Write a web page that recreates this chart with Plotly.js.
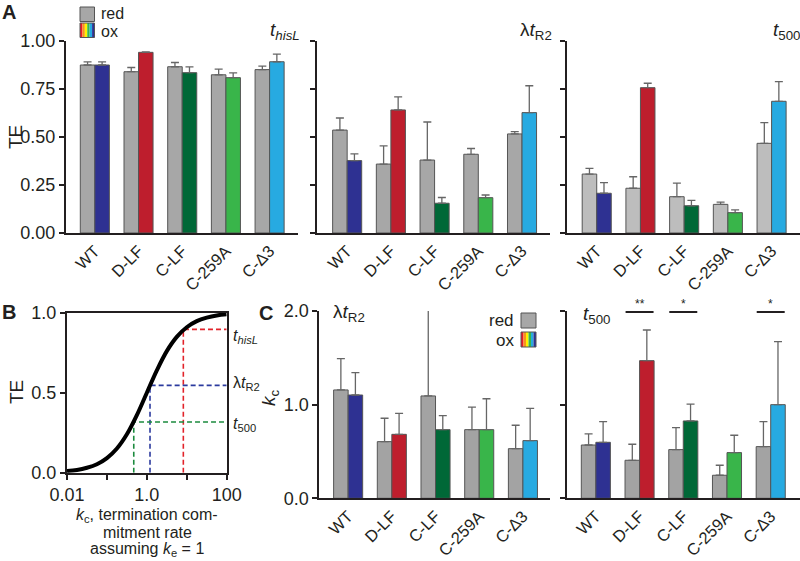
<!DOCTYPE html>
<html>
<head>
<meta charset="utf-8">
<script src="https://cdn.plot.ly/plotly-3.0.1.min.js"></script>
<style>html,body{margin:0;padding:0;background:#fff;}#chart{width:800px;height:561px;}</style>
</head>
<body>
<div id="chart"></div>
<script>
// ---------- DATA ----------
const categories = ['WT', 'D-LF', 'C-LF', 'C-259A', 'C-\u03943'];
const oxColors = ['#2e3192', '#be1e2d', '#006837', '#39b54a', '#27aae1'];

// Panel A: termination efficiency (TE)
const teHisLRed = [0.875, 0.840, 0.866, 0.824, 0.851];
const teHisLRedErr = [0.016, 0.022, 0.022, 0.030, 0.018];
const teHisLOx = [0.875, 0.941, 0.835, 0.809, 0.892];
const teHisLOxErr = [0.016, 0.002, 0.030, 0.025, 0.040];

const teR2Red = [0.536, 0.359, 0.380, 0.410, 0.516];
const teR2RedErr = [0.063, 0.095, 0.198, 0.030, 0.012];
const teR2Ox = [0.377, 0.641, 0.155, 0.184, 0.627];
const teR2OxErr = [0.035, 0.068, 0.030, 0.014, 0.140];

const te500Red = [0.307, 0.233, 0.189, 0.149, 0.467];
const te500RedErr = [0.030, 0.060, 0.071, 0.012, 0.108];
const te500Ox = [0.207, 0.757, 0.142, 0.106, 0.686];
const te500OxErr = [0.055, 0.023, 0.028, 0.014, 0.102];

// Panel B: TE vs kc curve (ke = 1)
const kcCurve = [0.01, 0.0178, 0.0316, 0.0562, 0.1, 0.178, 0.316, 0.562, 1, 1.78, 3.16, 5.62, 10, 17.8, 31.6, 56.2, 100];
const teCurve = [0.010, 0.017, 0.031, 0.053, 0.091, 0.151, 0.240, 0.360, 0.500, 0.640, 0.760, 0.849, 0.909, 0.947, 0.969, 0.983, 0.990];
const markerNames = ['<i>t</i><sub><i>hisL</i></sub>', '\u03bb<i>t</i><sub>R2</sub>', '<i>t</i><sub>500</sub>'];
const markerKc = [8.2, 1.2, 0.47];
const markerTE = [0.896, 0.546, 0.317];
const markerColors = ['#e2232a', '#2b3a9e', '#1b8a3e'];
const bTitleLines = ['<i>k</i><sub>c</sub>, termination com-', 'mitment rate', 'assuming <i>k</i><sub>e</sub> = 1'];

// Panel C: kc
const kcR2Red = [1.157, 0.605, 1.093, 0.733, 0.530];
const kcR2RedErr = [0.335, 0.250, 0.915, 0.240, 0.250];
const kcR2Ox = [1.103, 0.683, 0.733, 0.733, 0.616];
const kcR2OxErr = [0.240, 0.224, 0.150, 0.330, 0.345];

const kc500Red = [0.569, 0.406, 0.520, 0.246, 0.552];
const kc500RedErr = [0.118, 0.171, 0.235, 0.107, 0.267];
const kc500Ox = [0.598, 1.470, 0.826, 0.488, 1.000];
const kc500OxErr = [0.220, 0.327, 0.180, 0.185, 0.673];
const sigLabels = ['', '**', '*', '', '*'];

// ---------- HELPERS ----------
const W = 800, H = 561;
const px = v => v / W;
const py = v => 1 - v / H;
const FONT = 'Liberation Sans, Arial, Helvetica, sans-serif';
const TXT = '#231f20';
const idx = categories.map((c, i) => i);
const zeros = categories.map(() => 0);

function barPair(ax, redVals, redErr, oxVals, oxErr, gray) {
  const xa = ax === 1 ? 'x' : 'x' + ax;
  const ya = ax === 1 ? 'y' : 'y' + ax;
  const common = {
    type: 'bar', x: idx, xaxis: xa, yaxis: ya, showlegend: false, hoverinfo: 'skip'
  };
  return [
    Object.assign({}, common, {
      y: redVals, name: 'red',
      marker: {color: gray, line: {color: '#555', width: 1}},
      error_y: {type: 'data', symmetric: false, array: redErr, arrayminus: zeros, color: '#666', thickness: 1.3, width: 4}
    }),
    Object.assign({}, common, {
      y: oxVals, name: 'ox',
      marker: {color: oxColors, line: {color: '#555', width: 1}},
      error_y: {type: 'data', symmetric: false, array: oxErr, arrayminus: zeros, color: '#666', thickness: 1.3, width: 4}
    })
  ];
}

const traces = [].concat(
  barPair(1, teHisLRed, teHisLRedErr, teHisLOx, teHisLOxErr, '#a7a7a7'),
  barPair(2, teR2Red, teR2RedErr, teR2Ox, teR2OxErr, '#a7a7a7'),
  barPair(3, te500Red, te500RedErr, te500Ox, te500OxErr, '#bdbdbd'),
  barPair(5, kcR2Red, kcR2RedErr, kcR2Ox, kcR2OxErr, '#a3a3a3'),
  barPair(6, kc500Red, kc500RedErr, kc500Ox, kc500OxErr, '#a3a3a3')
);

// Panel B dashed guides
markerKc.forEach((k, i) => {
  traces.push({
    type: 'scatter', mode: 'lines', xaxis: 'x4', yaxis: 'y4', showlegend: false, hoverinfo: 'skip',
    x: [k, k, 100], y: [0, markerTE[i], markerTE[i]],
    line: {color: markerColors[i], width: 1.6, dash: '5px,3px'}
  });
});
// Panel B curve
traces.push({
  type: 'scatter', mode: 'lines', xaxis: 'x4', yaxis: 'y4', showlegend: false, hoverinfo: 'skip',
  x: kcCurve, y: teCurve, line: {color: '#000', width: 4, shape: 'spline'}
});

// ---------- AXES ----------
const tickFont = {family: FONT, size: 18, color: TXT};
function xBar(domain, range, anchor) {
  return {
    domain: domain, range: range, anchor: anchor, type: 'linear',
    tickvals: idx, ticktext: categories, tickangle: -45, ticks: '',
    showline: true, linecolor: TXT, linewidth: 2, showgrid: false, zeroline: false,
    tickfont: {family: FONT, size: 16.5, color: TXT}, fixedrange: true
  };
}
function yBar(domain, range, anchor, tickvals, ticktext, showLabels) {
  return {
    domain: domain, range: range, anchor: anchor,
    tickvals: tickvals, ticktext: ticktext, showticklabels: showLabels,
    ticks: 'outside', ticklen: 5, tickwidth: 2, tickcolor: TXT,
    showline: true, linecolor: TXT, linewidth: 2, showgrid: false, zeroline: false,
    tickfont: tickFont, fixedrange: true
  };
}
const teTicks = [0, 0.25, 0.5, 0.75, 1.0];
const teTickText = ['0.00', '0.25', '0.50', '0.75', '1.00'];
const kcTicks = [0, 1, 2];
const kcTickText = ['0.0', '1.0', '2.0'];

const topDom = [py(233), py(41)];
const botDom = [py(498.3), py(311)];

const layout = {
  width: W, height: H, autosize: false,
  margin: {l: 0, r: 0, t: 0, b: 0},
  paper_bgcolor: '#fff', plot_bgcolor: 'rgba(0,0,0,0)',
  font: {family: FONT, color: TXT},
  barmode: 'group', bargap: 0.335, bargroupgap: 0,
  xaxis: xBar([px(66), px(298)], [-0.66, 4.65], 'y'),
  yaxis: yBar(topDom, [0, 1], 'x', teTicks, teTickText, true),
  xaxis2: xBar([px(317), px(550)], [-0.69, 4.64], 'y2'),
  yaxis2: yBar(topDom, [0, 1], 'x2', teTicks, teTickText, false),
  xaxis3: xBar([px(567), px(800)], [-0.68, 4.65], 'y3'),
  yaxis3: yBar(topDom, [0, 1], 'x3', teTicks, teTickText, false),
  xaxis4: {
    domain: [px(67), px(226.7)], anchor: 'y4', type: 'log', range: [-2, 2],
    tickvals: [0.01, 1, 100], ticktext: ['0.01', '1.0', '100'],
    minor: {tickvals: [0.1, 10], ticks: 'outside', ticklen: 5, tickwidth: 2, tickcolor: TXT, showgrid: false},
    ticks: 'outside', ticklen: 5, tickwidth: 2, tickcolor: TXT,
    showline: true, mirror: true, linecolor: TXT, linewidth: 2, showgrid: false, zeroline: false,
    tickfont: tickFont, fixedrange: true
  },
  yaxis4: {
    domain: [py(472.7), py(312.7)], anchor: 'x4', range: [0, 1],
    tickvals: [0, 0.5, 1], ticktext: ['0.0', '0.5', '1.0'],
    ticks: 'outside', ticklen: 5, tickwidth: 2, tickcolor: TXT,
    showline: true, mirror: true, linecolor: TXT, linewidth: 2, showgrid: false, zeroline: false,
    tickfont: tickFont, fixedrange: true
  },
  xaxis5: xBar([px(319.3), px(550)], [-0.66, 4.62], 'y5'),
  yaxis5: yBar(botDom, [0, 2], 'x5', kcTicks, kcTickText, true),
  xaxis6: xBar([px(567), px(800)], [-0.66, 4.67], 'y6'),
  yaxis6: yBar(botDom, [0, 2], 'x6', kcTicks, kcTickText, false),
  shapes: [],
  annotations: []
};

const ann = layout.annotations;
const shp = layout.shapes;
function txt(text, x, y, opts) {
  ann.push(Object.assign({
    text: text, x: px(x), y: py(y), xref: 'paper', yref: 'paper',
    showarrow: false, xanchor: 'left', yanchor: 'middle',
    font: {family: FONT, size: 17, color: TXT}
  }, opts || {}));
}

// Panel letters
txt('<b>A</b>', 0, 12, {font: {family: FONT, size: 20, color: TXT}});
txt('<b>B</b>', 0, 312, {font: {family: FONT, size: 20, color: TXT}});
txt('<b>C</b>', 257, 313, {font: {family: FONT, size: 20, color: TXT}});

// Axis titles
txt('TE', 16, 137, {xanchor: 'center', textangle: -90, font: {family: FONT, size: 19, color: TXT}});
txt('TE', 16, 392, {xanchor: 'center', textangle: -90, font: {family: FONT, size: 19, color: TXT}});
txt('<i>k</i><sub>c</sub>', 270, 398, {xanchor: 'center', textangle: -90, font: {family: FONT, size: 19, color: TXT}});
const bLineY = [515, 532, 549];
bTitleLines.forEach((t, i) => {
  txt(t, 147, bLineY[i], {xanchor: 'center', font: {family: FONT, size: 16, color: TXT}});
});

// Panel titles
const titleFont = {family: FONT, size: 19, color: TXT};
txt('<i>t</i><sub><i>hisL</i></sub>', 302, 31, {xanchor: 'right', font: titleFont});
txt('\u03bb<i>t</i><sub>R2</sub>', 554, 31, {xanchor: 'right', font: titleFont});
txt('<i>t</i><sub>500</sub>', 802, 31, {xanchor: 'right', font: titleFont});
txt('\u03bb<i>t</i><sub>R2</sub>', 331, 313, {font: titleFont});
txt('<i>t</i><sub>500</sub>', 581, 315, {font: titleFont});

// Panel B right-side labels
markerNames.forEach((n, i) => {
  ann.push({
    text: n, xref: 'paper', yref: 'y4', x: px(231), y: markerTE[i],
    yshift: i === 0 ? -7 : (i === 1 ? 2 : -3),
    showarrow: false, xanchor: 'left', yanchor: 'middle',
    font: {family: FONT, size: 16, color: TXT}
  });
});

// Significance bars in C (t500)
sigLabels.forEach((s, i) => {
  if (!s) return;
  shp.push({type: 'line', xref: 'x6', yref: 'y6', x0: i - 0.32, x1: i + 0.32, y0: 1.99, y1: 1.99,
    line: {color: TXT, width: 2}});
  ann.push({text: s, xref: 'x6', yref: 'y6', x: i, y: 1.99, yshift: 8, showarrow: false,
    xanchor: 'center', yanchor: 'middle', font: {family: FONT, size: 12, color: TXT}});
});

// Legends (gray and rainbow swatches)
const rainbow = ['#ed1c24', '#f7941d', '#fff200', '#39b54a', '#27aae1', '#2e3192'];
function swatches(x0, y0, size, gap) {
  shp.push({type: 'rect', xref: 'paper', yref: 'paper', x0: px(x0), x1: px(x0 + size), y0: py(y0 + size), y1: py(y0),
    fillcolor: '#a7a7a7', line: {color: '#555', width: 1}});
  const y1 = y0 + size + gap;
  const sw = size / rainbow.length;
  rainbow.forEach((c, i) => {
    shp.push({type: 'rect', xref: 'paper', yref: 'paper', x0: px(x0 + i * sw), x1: px(x0 + (i + 1) * sw),
      y0: py(y1 + size), y1: py(y1), fillcolor: c, line: {width: 0}});
  });
  shp.push({type: 'rect', xref: 'paper', yref: 'paper', x0: px(x0), x1: px(x0 + size), y0: py(y1 + size), y1: py(y1),
    fillcolor: 'rgba(0,0,0,0)', line: {color: '#555', width: 1}});
}
swatches(80, 7, 14.5, 1.5);
txt('red', 99, 13, {font: {family: FONT, size: 16, color: TXT}});
txt('ox', 99, 32, {font: {family: FONT, size: 16, color: TXT}});
swatches(521, 313, 15, 4);
txt('red', 516, 320, {xanchor: 'right'});
txt('ox', 516, 340, {xanchor: 'right'});

Plotly.newPlot('chart', traces, layout, {displayModeBar: false, staticPlot: true});
</script>
</body>
</html>
